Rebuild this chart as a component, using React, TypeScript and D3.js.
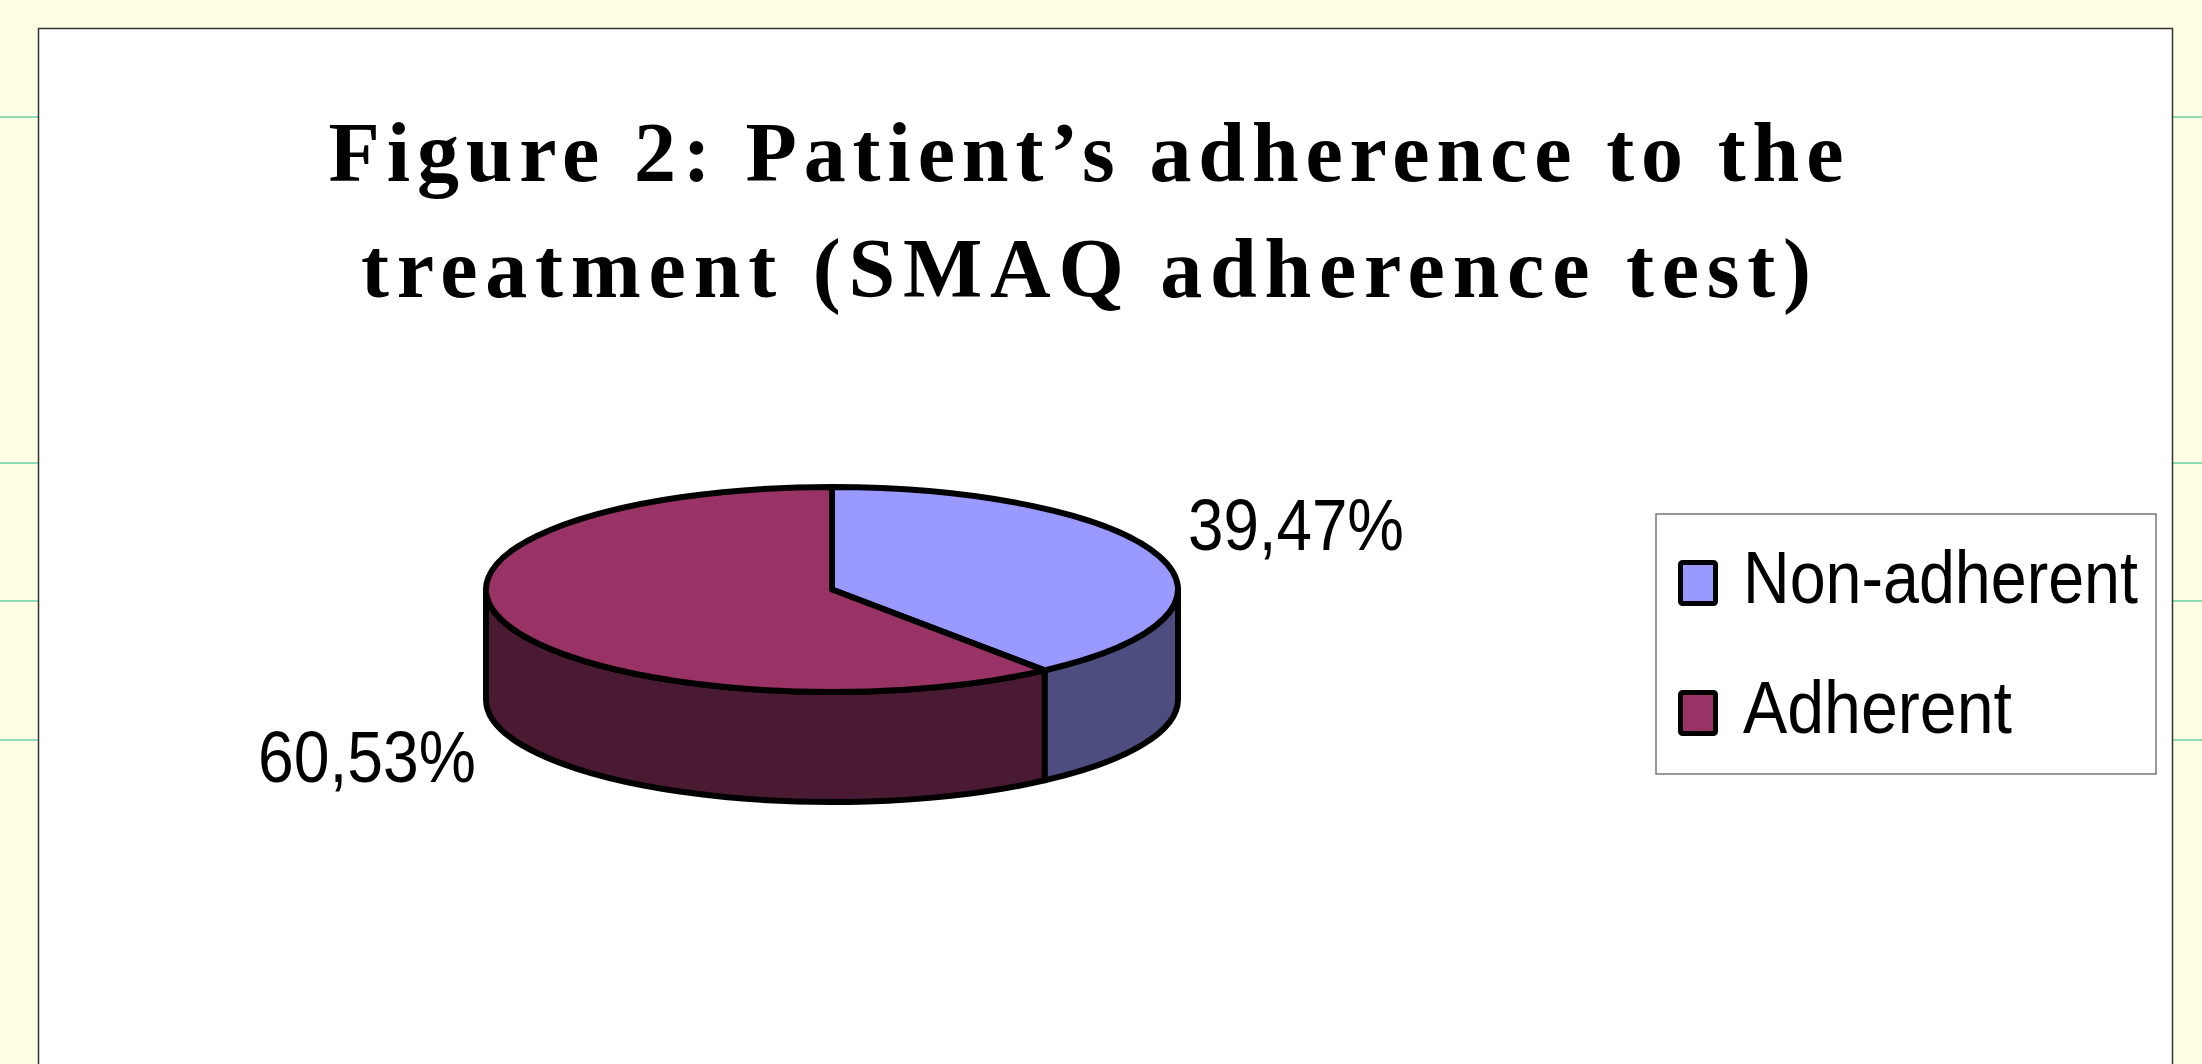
import { useEffect, useRef } from "react";
import * as d3 from "d3";

const categories = ["Non-adherent", "Adherent"];
const shares = [39.47, 60.53];
const shareLabels = ["39,47%", "60,53%"];
const titleLines = [
  "Figure 2: Patient\u2019s adherence to the",
  "treatment (SMAQ adherence test)",
];

const topColors = ["#9999FF", "#993366"];
const sideColors = ["#4D4D80", "#4A1A33"];

export default function App() {
  const svgRef = useRef<SVGSVGElement>(null);

  useEffect(() => {
    if (!svgRef.current) return;
    const svg = d3.select(svgRef.current);
    svg.selectAll("*").remove();

    const width = 2202;
    const height = 1064;

    // page background
    svg.append("rect").attr("width", width).attr("height", height).attr("fill", "#FFFFE6");

    // green rules on the slide behind the chart
    const ruleYs = [117, 463, 601, 740];
    svg
      .selectAll(".rule")
      .data(ruleYs)
      .join("line")
      .attr("x1", 0)
      .attr("x2", width)
      .attr("y1", (d) => d)
      .attr("y2", (d) => d)
      .attr("stroke", "#6CCFA6")
      .attr("stroke-width", 1.5);

    // chart area
    svg
      .append("rect")
      .attr("x", 38.5)
      .attr("y", 28.5)
      .attr("width", 2134)
      .attr("height", 1100)
      .attr("fill", "#ffffff")
      .attr("stroke", "#333333")
      .attr("stroke-width", 1.5);

    // title
    const titleWidths = [1515, 1450];
    svg
      .selectAll(".title")
      .data(titleLines)
      .join("text")
      .attr("class", "title")
      .attr("x", 1086)
      .attr("y", (d, i) => 181 + i * 116)
      .attr("text-anchor", "middle")
      .attr("font-family", "'Liberation Serif', 'DejaVu Serif', serif")
      .attr("font-weight", "bold")
      .attr("font-size", "84px")
      .attr("textLength", (d, i) => titleWidths[i])
      .attr("lengthAdjust", "spacing")
      .attr("fill", "#000")
      .text((d) => d);

    // 3D pie
    const cx = 832;
    const cy = 589.5;
    const rx = 346;
    const ry = 102.5;
    const depth = 110;

    const pie = d3
      .pie<number>()
      .sort(null)
      .value((d) => d);
    const arcs = pie(shares);

    const pt = (a: number, dy = 0): [number, number] => [
      cx + rx * Math.sin(a),
      cy - ry * Math.cos(a) + dy,
    ];

    const g = svg.append("g");

    // side walls (only the front half is visible)
    arcs.forEach((arc, i) => {
      const a0 = Math.max(arc.startAngle, Math.PI / 2);
      const a1 = Math.min(arc.endAngle, (3 * Math.PI) / 2);
      if (a1 <= a0) return;
      const p0 = pt(a0);
      const p1 = pt(a1);
      const q1 = pt(a1, depth);
      const q0 = pt(a0, depth);
      const large = a1 - a0 > Math.PI ? 1 : 0;
      const d =
        `M${p0[0]},${p0[1]}` +
        `A${rx},${ry} 0 ${large} 1 ${p1[0]},${p1[1]}` +
        `L${q1[0]},${q1[1]}` +
        `A${rx},${ry} 0 ${large} 0 ${q0[0]},${q0[1]}Z`;
      g.append("path")
        .attr("d", d)
        .attr("fill", sideColors[i])
        .attr("stroke", "#000")
        .attr("stroke-width", 6)
        .attr("stroke-linejoin", "round");
    });

    // top faces
    arcs.forEach((arc, i) => {
      const p0 = pt(arc.startAngle);
      const p1 = pt(arc.endAngle);
      const large = arc.endAngle - arc.startAngle > Math.PI ? 1 : 0;
      const d =
        `M${cx},${cy}L${p0[0]},${p0[1]}` +
        `A${rx},${ry} 0 ${large} 1 ${p1[0]},${p1[1]}Z`;
      g.append("path")
        .attr("d", d)
        .attr("fill", topColors[i])
        .attr("stroke", "#000")
        .attr("stroke-width", 6)
        .attr("stroke-linejoin", "round");
    });

    // data labels
    const labelWidths = [216, 218];
    arcs.forEach((arc, i) => {
      const mid = (arc.startAngle + arc.endAngle) / 2;
      const right = Math.sin(mid) > 0;
      g.append("text")
        .attr("x", right ? cx + rx + 10 : cx - rx - 10)
        .attr("y", right ? cy - 40 : cy + 192)
        .attr("text-anchor", right ? "start" : "end")
        .attr("font-family", "'Liberation Sans', Arial, sans-serif")
        .attr("font-size", "72px")
        .attr("textLength", labelWidths[i])
        .attr("lengthAdjust", "spacingAndGlyphs")
        .attr("fill", "#000")
        .text(shareLabels[i]);
    });

    // legend
    const legend = svg.append("g").attr("transform", "translate(1656,514)");
    legend
      .append("rect")
      .attr("width", 500)
      .attr("height", 260)
      .attr("fill", "#fff")
      .attr("stroke", "#777")
      .attr("stroke-width", 1.5);

    const yLegend = d3.scalePoint<string>().domain(categories).range([69, 199]);
    const legendWidths = [395, 269];
    const items = legend
      .selectAll(".item")
      .data(categories)
      .join("g")
      .attr("class", "item")
      .attr("transform", (d) => `translate(0,${yLegend(d)})`);

    items
      .append("rect")
      .attr("x", 24.5)
      .attr("y", -20.5)
      .attr("width", 35)
      .attr("height", 41)
      .attr("rx", 2)
      .attr("fill", (d, i) => topColors[i])
      .attr("stroke", "#000")
      .attr("stroke-width", 5);

    items
      .append("text")
      .attr("x", 87)
      .attr("y", 20)
      .attr("font-family", "'Liberation Sans', Arial, sans-serif")
      .attr("font-size", "75px")
      .attr("textLength", (d, i) => legendWidths[i])
      .attr("lengthAdjust", "spacingAndGlyphs")
      .attr("fill", "#000")
      .text((d) => d);
  }, []);

  return (
    <svg
      ref={svgRef}
      width={2202}
      height={1064}
      style={{ position: "absolute", left: 0, top: 0, display: "block" }}
    />
  );
}
